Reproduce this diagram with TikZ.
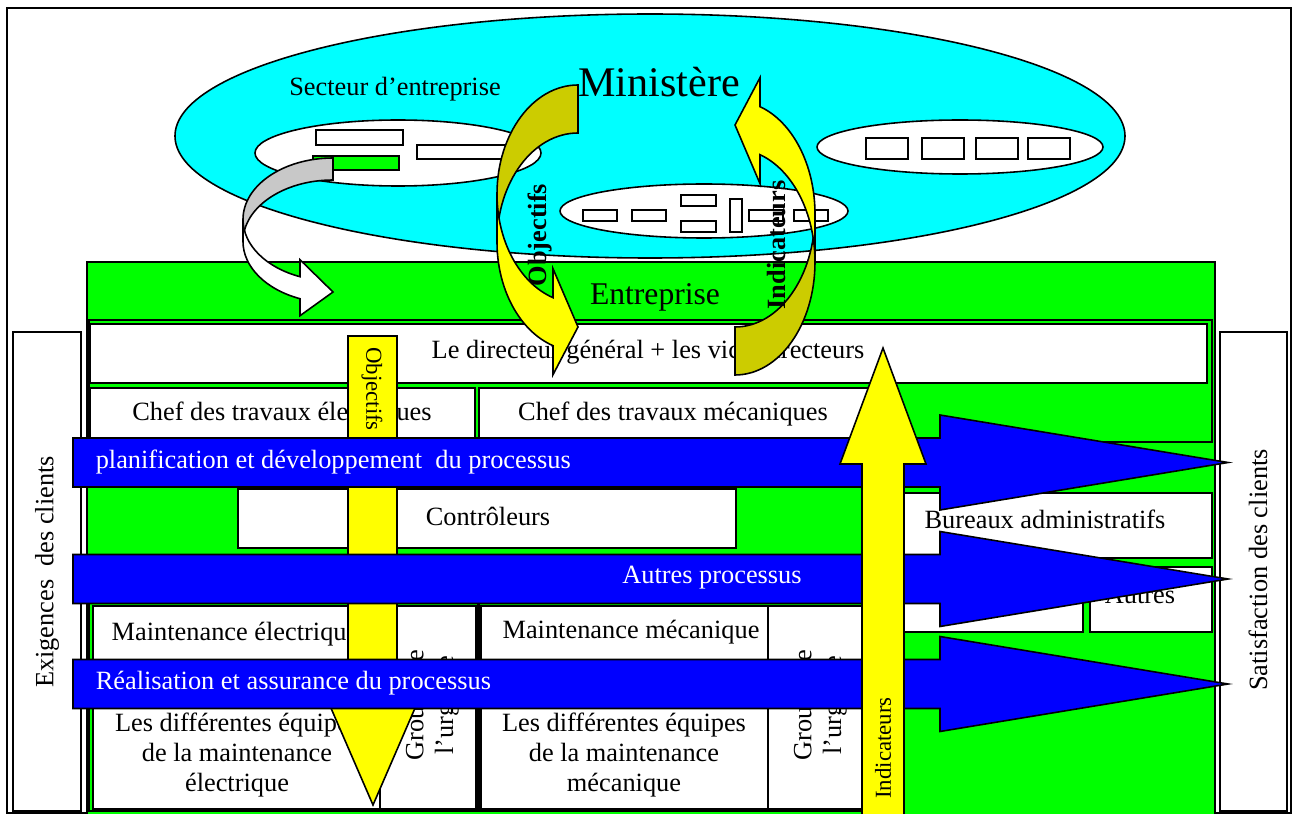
\documentclass[tikz,border=0pt]{standalone}
\usepackage{fontspec}
\setmainfont{Liberation Serif}
\usetikzlibrary{calc}

\definecolor{cyanmin}{RGB}{0,255,255}
\definecolor{greenent}{RGB}{0,255,0}
\definecolor{blueproc}{RGB}{0,0,255}
\definecolor{yellowarr}{RGB}{255,255,0}
\definecolor{olivearr}{RGB}{204,204,0}
\definecolor{greyarr}{RGB}{200,200,200}

\newcommand{\bentarrow}[7]{%
    \pgfmathsetmacro{\barrhr}{#2/2-(#3+#4)/4}
    \pgfmathsetmacro{\barrta}{180-acos(#5/#1)}
    \pgfmathsetmacro{\barrdy}{\barrhr*sin(\barrta)}
    \pgfmathsetmacro{\barrdh}{(#4-#3)/2}
    \filldraw[fill=#6] (#1,0) arc[start angle=270, end angle=180, x radius=#1, y radius=\barrhr]
        -- ++(0,#3) arc[start angle=180, end angle=270, x radius=#1, y radius=\barrhr] -- cycle;
    \filldraw[fill=#7] (0,\barrhr) arc[start angle=180, end angle=\barrta, x radius=#1, y radius=\barrhr]
        -- ++(0,-\barrdh) -- (#1,#2-#4/2) -- (#1-#5,\barrhr+#3+\barrdy+\barrdh) -- ++(0,-\barrdh)
        arc[start angle=\barrta, end angle=180, x radius=#1, y radius=\barrhr] -- cycle;
}

\begin{document}
\begin{tikzpicture}[x=0.02cm, y=-0.02cm, line width=0.9pt,
    box/.style={draw, fill=white},
    lbl/.style={font=\fontsize{15}{17}\selectfont, inner sep=0pt, align=center},
    small/.style={font=\fontsize{13}{15}\selectfont, inner sep=0pt},
    boldlbl/.style={font=\fontsize{15}{17}\selectfont\bfseries, inner sep=0pt},
    proc/.style={draw, fill=blueproc},
    proctext/.style={lbl, text=white}]
    \useasboundingbox (0,0) rectangle (1296,814);
    \draw (7,8) rectangle (1291,813);

    \draw[fill=cyanmin] (650,136) ellipse [x radius=475, y radius=122];
    \node[lbl] at (395,89) (secteur) {Secteur d’entreprise};
    \node[font=\fontsize{24}{28}\selectfont, inner sep=0pt] at (659,82) (minist) {Ministère};

    \draw[box] (398,153) ellipse [x radius=143, y radius=33];
    \draw[box] (316,130) rectangle (403,145);
    \draw[box] (417,145) rectangle (507,159);
    \draw[fill=greenent] (313,156) rectangle (399,170);

    \draw[box] (704,211) ellipse [x radius=144, y radius=27];
    \foreach \xa in {583,632,749,794}
        \draw[box] (\xa,210) rectangle ++(34,11);
    \draw[box] (681,195) rectangle (716,206);
    \draw[box] (681,221) rectangle (716,232);
    \draw[box] (730,199) rectangle (742,232);

    \draw[box] (960,147) ellipse [x radius=143, y radius=27];
    \foreach \xa in {866,922,976,1028}
        \draw[box] (\xa,138) rectangle ++(42,21);

    \draw[fill=greenent] (87,262) rectangle (1215,820);
    \node[font=\fontsize{18}{22}\selectfont, inner sep=0pt] at (655,297) (entr) {Entreprise};

    \draw[box] (13,332) rectangle (81,811);
    \draw[box] (1220,332) rectangle (1287,811);
    \node[lbl, rotate=90] at (47,572) (exig) {Exigences\ \ des clients};
    \node[lbl, rotate=90] at (1258,570) (satis) {Satisfaction des clients};

    \draw[fill=greenent] (89,320) rectangle (1212,442);
    \draw[box] (90,324) rectangle (1207,383);
    \node[lbl] at (648,352) (dirg) {Le directeur général + les vice-directeurs};
    \draw[box] (90,388) rectangle (475,440);
    \node[lbl] at (282,414) (chefel) {Chef des travaux électriques};
    \draw[box] (479,388) rectangle (870,440);
    \node[lbl] at (673,414) (chefmec) {Chef des travaux mécaniques};

    \draw[box] (238,489) rectangle (736,548);
    \node[lbl] at (488,516) (ctrl) {Contrôleurs};
    \draw[box] (880,493) rectangle (1212,558);
    \node[lbl] at (1045,519) (bureau) {Bureaux administratifs};
    \draw[box] (878,600) rectangle (1083,632);
    \draw[box] (1090,567) rectangle (1212,632);
    \node[lbl] at (1140,595) (autres) {Autres};

    \draw[fill=greenent] (89,603) rectangle (478,811);
    \draw[box] (93,606) rectangle (380,690);
    \node[lbl] at (235,634) (maintel) {Maintenance électrique};
    \draw[box] (93,680) rectangle (380,809);
    \node[lbl] at (237,755) (equel) {Les différentes équipes\\de la maintenance\\électrique};
    \draw[box] (380,606) rectangle (476,809);
    \node[lbl, rotate=90] at (432,705) (grpel) {Groupe de\\l’urgence};

    \draw[fill=greenent] (479,603) rectangle (872,811);
    \draw[box] (481,606) rectangle (768,690);
    \node[lbl] at (631,632) (maintmec) {Maintenance mécanique};
    \draw[box] (481,680) rectangle (768,809);
    \node[lbl] at (624,755) (equmec) {Les différentes équipes\\de la maintenance\\mécanique};
    \draw[box] (768,606) rectangle (870,809);
    \node[lbl, rotate=90] at (820,705) (grpmec) {Groupe de\\l’urgence};

    \begin{scope}[shift={(243,158)}]
        \bentarrow{90}{162}{22}{56}{33}{greyarr}{white}
    \end{scope}
    \begin{scope}[shift={(497,85)}]
        \bentarrow{81}{295}{48}{106}{25}{olivearr}{yellowarr}
    \end{scope}
    \begin{scope}[shift={(815,375)}, rotate=180]
        \bentarrow{80}{303}{48}{106}{25}{olivearr}{yellowarr}
    \end{scope}
    \node[boldlbl, rotate=90] at (540,235) (objc) {Objectifs};
    \node[boldlbl, rotate=90] at (777,245) (indc) {Indicateurs};

    \filldraw[fill=yellowarr] (348,336) -- (397,336) -- (397,692) -- (422,692) -- (373,805) -- (324,692) -- (348,692) -- cycle;
    \node[small, rotate=-90] at (372,389) (objs) {Objectifs};

    \foreach \yc in {462.5,579,684}
        \filldraw[proc] (73,\yc-24.5) -- (940,\yc-24.5) -- (940,\yc-47.5) -- (1228,\yc) -- (940,\yc+47.5) -- (940,\yc+24.5) -- (73,\yc+24.5) -- cycle;
    \node[proctext, anchor=west] at (95,462) (plan) {planification et développement\ \ du processus};
    \node[proctext] at (712,578) (autproc) {Autres processus};
    \node[proctext, anchor=west] at (95,683) (real) {Réalisation et assurance du processus};

    \filldraw[fill=yellowarr] (862,820) -- (862,464) -- (840,464) -- (883,348) -- (926,464) -- (904,464) -- (904,820) -- cycle;
    \node[small, rotate=90] at (883,748) (inds) {Indicateurs};
\end{tikzpicture}
\end{document}
